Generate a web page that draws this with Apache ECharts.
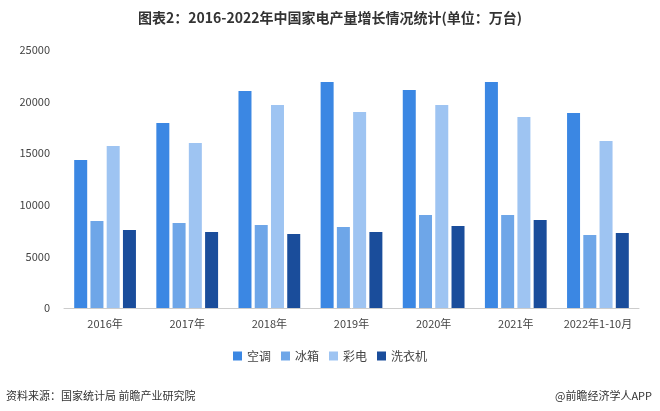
<!DOCTYPE html>
<html><head><meta charset="utf-8">
<script src="https://cdn.jsdelivr.net/npm/echarts@6/dist/echarts.min.js"></script>
<style>html,body{margin:0;padding:0;background:#fff}#c{width:660px;height:411px}</style>
</head><body><div id="c"></div>
<script>
const categories = ['2016年','2017年','2018年','2019年','2020年','2021年','2022年1-10月'];
const airCon = [14350, 17930, 21030, 21900, 21120, 21900, 18900];
const fridge = [8430, 8240, 8040, 7850, 9010, 9010, 7070];
const colorTV = [15700, 15990, 19670, 18990, 19670, 18500, 16180];
const washer = [7560, 7360, 7170, 7360, 7950, 8530, 7270];
const seriesNames = ['空调','冰箱','彩电','洗衣机'];
const colors = ['#3b87e3','#6ea6e8','#9ec4f2','#1a4d9b'];
const font = '"Noto Sans CJK SC", sans-serif';
const chart = echarts.init(document.getElementById('c'));
chart.setOption({
  animation:false,
  textStyle:{fontFamily:font},
  title:{text:'图表2：2016-2022年中国家电产量增长情况统计(单位：万台)',left:'center',top:6,
    textStyle:{fontSize:14,fontWeight:'bold',color:'#333',fontFamily:font}},
  legend:{data:seriesNames,bottom:44,itemWidth:9,itemHeight:9,itemGap:10,icon:'rect',
    textStyle:{fontSize:12,color:'#444'}},
  grid:{left:64,right:21,top:50,bottom:103},
  xAxis:{type:'category',data:categories,axisTick:{show:false},
    axisLine:{lineStyle:{color:'#ccc'}},axisLabel:{color:'#444',fontSize:11,margin:10,interval:0}},
  yAxis:{type:'value',min:0,max:25000,interval:5000,axisLine:{show:false},axisTick:{show:false},
    splitLine:{show:false},axisLabel:{color:'#444',fontSize:11,margin:14,formatter:v=>String(v)}},
  series:[airCon,fridge,colorTV,washer].map((d,i)=>({name:seriesNames[i],type:'bar',data:d,
    barWidth:13,barGap:'25%',itemStyle:{color:colors[i]}})),
  graphic:[
    {type:'text',left:6,bottom:10,style:{text:'资料来源：国家统计局 前瞻产业研究院',fontSize:11,fill:'#333',fontFamily:font}},
    {type:'text',right:8,bottom:10,style:{text:'@前瞻经济学人APP',fontSize:11,fill:'#333',fontFamily:font}}
  ]
});
</script></body></html>
